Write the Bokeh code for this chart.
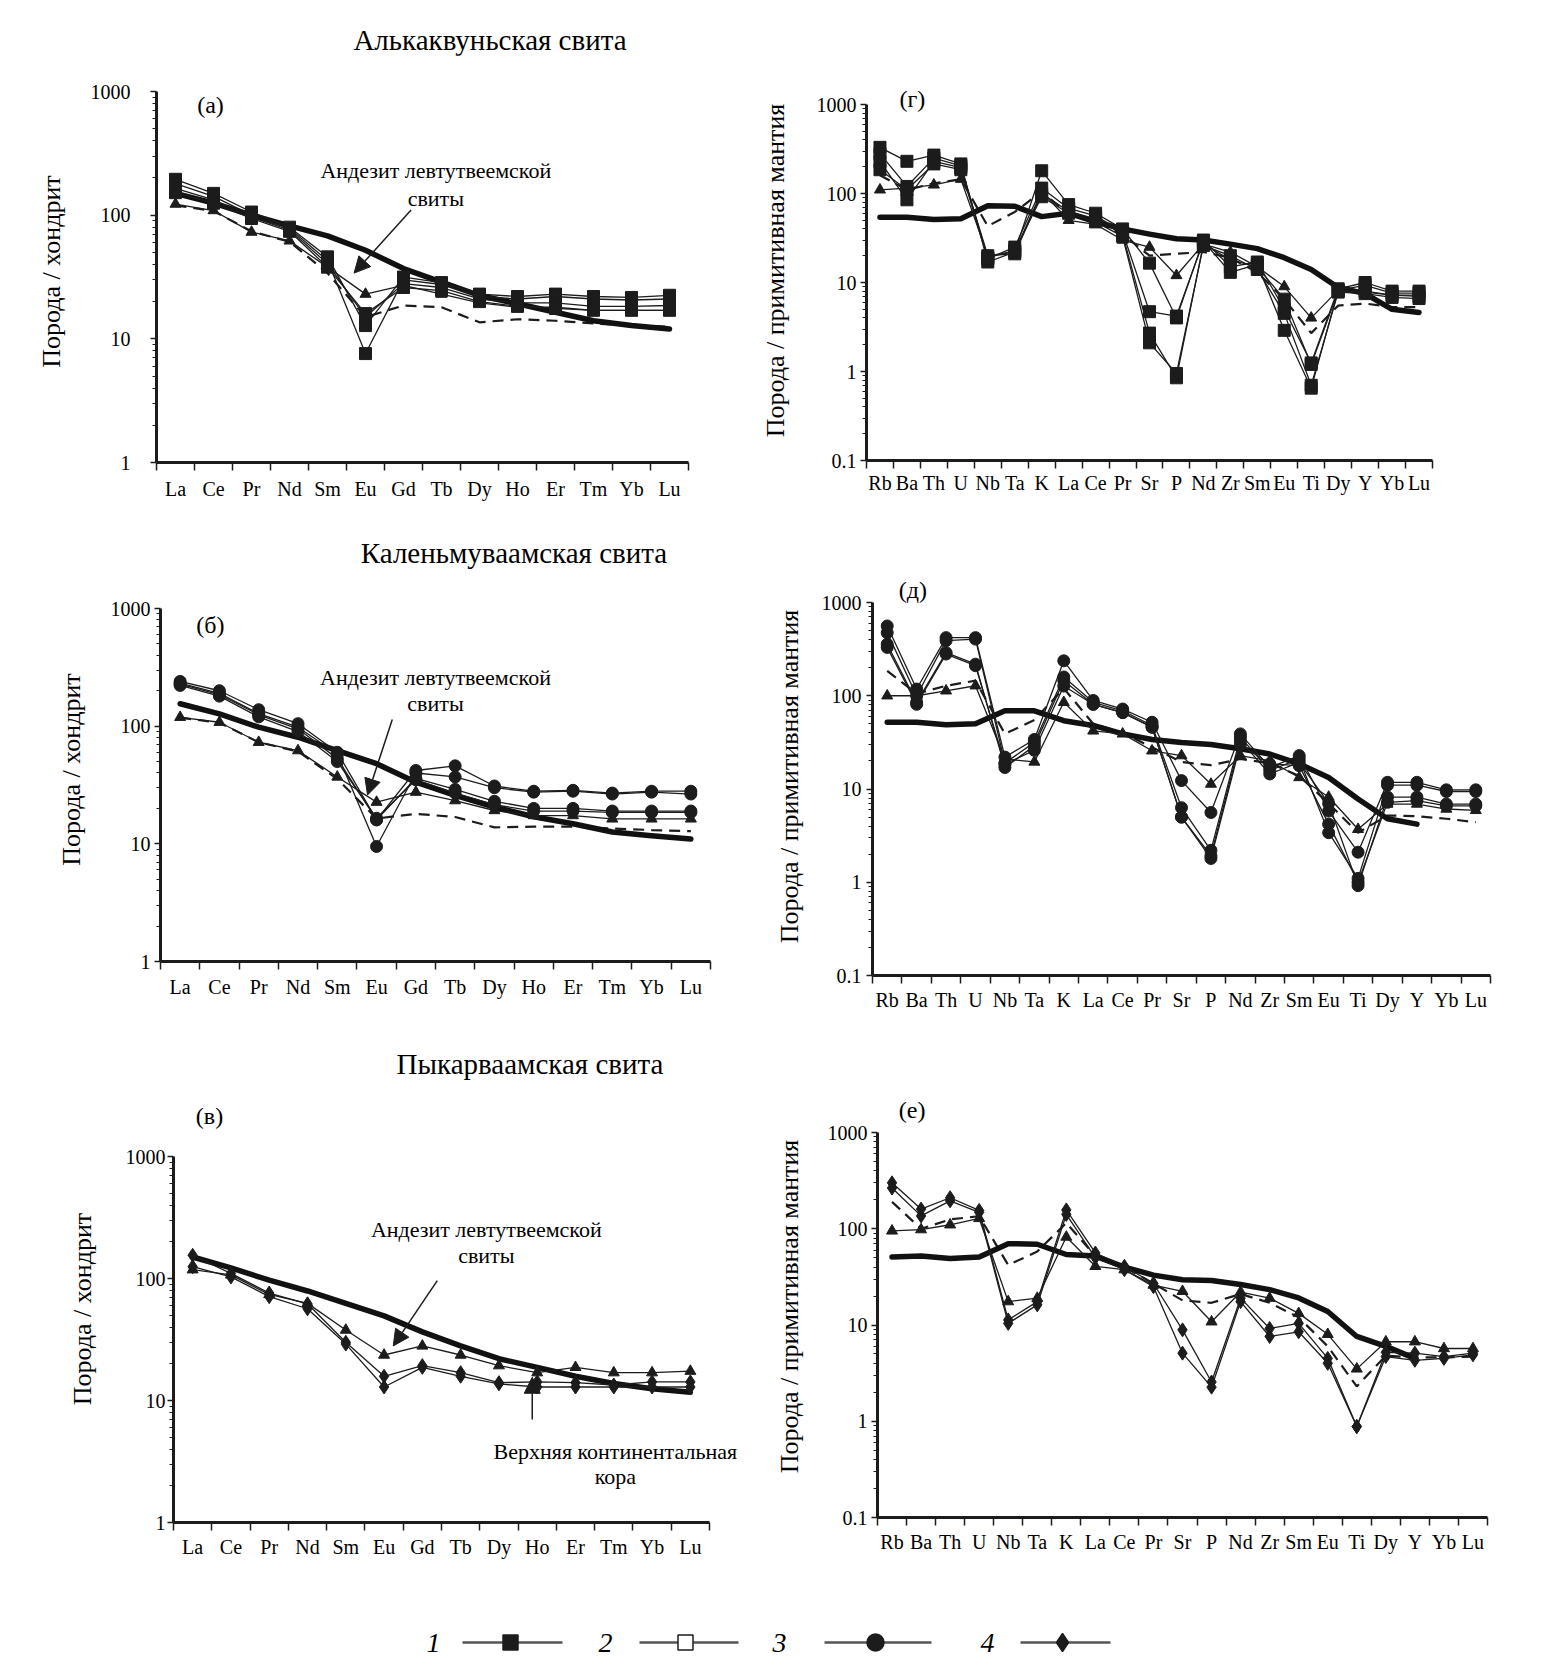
import math
from bokeh.plotting import figure
from bokeh.models import Range1d, FixedTicker, CustomJSTickFormatter, Label, Arrow, NormalHead, Div
from bokeh.layouts import column, row
from bokeh.core.properties import value
from bokeh.embed import file_html
from bokeh.resources import INLINE

FONT = "Liberation Serif"
NAN = float("nan")

# ---------------- categories ----------------
REE = ["La", "Ce", "Pr", "Nd", "Sm", "Eu", "Gd", "Tb", "Dy", "Ho", "Er", "Tm", "Yb", "Lu"]
SPIDER = ["Rb", "Ba", "Th", "U", "Nb", "Ta", "K", "La", "Ce", "Pr", "Sr", "P", "Nd", "Zr",
          "Sm", "Eu", "Ti", "Dy", "Y", "Yb", "Lu"]

# ---------------- panel (а) ----------------
a_crust = [150, 125, 100, 82, 68, 52, 37, 28.7, 22.4, 19.2, 16.4, 14, 12.8, 12]
a_andesite = [123, 109, 73, 62, 38, 23, 27, 23, 19.5, 18, 18, 17, 17, 17]
a_dashed = [120, 108, 74, 61, 34, 15, 18.6, 18, 13.6, 14.4, 14, 13.3, 12.9, 12.5]
a_s1 = [195, 150, 106, 80, 46, 12.8, 31.6, 28.5, 23, 22, 23, 22, 21.6, 22.5]
a_s2 = [180, 142, 100, 78, 43, 7.6, 30, 27.5, 22, 21, 22, 21, 20.6, 21]
a_s3 = [165, 133, 96, 76, 40.5, 15, 28, 26, 21, 19.5, 19.5, 18.3, 18.3, 18.6]
a_s4 = [152, 125, 94, 74, 38, 16, 26, 24.5, 20, 18.3, 17.6, 17, 17, 17]

# ---------------- panel (б) ----------------
b_crust = [155, 127, 98, 80.5, 62, 48, 33.4, 25.8, 20.5, 17, 14.8, 12.6, 11.7, 11]
b_andesite = [119, 108, 73, 62, 37, 22.6, 27.5, 23.3, 19.2, 17.4, 17.4, 16.3, 16.3, 16.3]
b_dashed = [118, 107, 73, 61, 35.6, 16.4, 18, 16.9, 13.8, 14, 14, 13.5, 13.1, 12.8]
b_s1 = [240, 200, 138, 105, 60, 16, 42, 46, 31, 28, 28.5, 27, 28, 28]
b_s2 = [232, 190, 128, 98, 58, 9.5, 40, 37, 30, 27.5, 28, 26.5, 27.5, 26.5]
b_s3 = [228, 185, 125, 95, 53, 16, 36, 29, 23, 20, 20, 19, 19, 19]
b_s4 = [222, 180, 120, 90, 50, 16.5, 35, 27, 21.5, 19, 19, 18.5, 18.5, 18.5]

# ---------------- panel (в) ----------------
v_crust = [150, 122, 97, 79, 62.5, 49.4, 36.5, 28, 22, 18.7, 15.8, 13.8, 12.5, 11.7]
v_andesite = [118, 107, 74, 62.5, 37.8, 23.6, 28, 23.6, 19.3, 16.9, 18.7, 16.9, 16.9, 17.4]
v_s1 = [155, 110, 76, 62, 30, 15.8, 19.3, 16.9, 14, 14.2, 14, 13.4, 14.2, 14.2]
v_s2 = [125, 103, 71, 56.5, 29, 12.9, 18.7, 15.8, 13.7, 12.9, 12.9, 12.9, 12.9, 12.9]

# ---------------- panel (г) ----------------
g_crust = [54, 54, 51, 52, 73, 72, 55, 60, 48, 40, 35, 31, 30, 27, 24, 19, 14, 8.8, 7.5, 5, 4.6]
g_andesite = [110, 115, 125, 145, 20, 22, 105, 50, 45, 30, 25, 12, 27, 22, 15, 9, 4, 8.2, 7.8, 7.2, 7.2]
g_dashed = [160, 110, 130, 145, 43, 62, 105, 58, 48, 35, 20, 21, 22, 19, 13, 6.5, 2.7, 5.5, 5.8, 5.3, 5.3]
g_s1 = [330, 230, 270, 215, 17, 22, 180, 75, 60, 40, 16.5, 4, 30, 15, 17, 5, 1.25, 8.5, 10, 8, 8]
g_s2 = [280, 120, 250, 205, 18.5, 25, 115, 68, 56, 37, 4.7, 4.2, 29, 13, 16, 2.9, 0.65, 8.2, 9.3, 7.6, 7.6]
g_s3 = [230, 85, 230, 195, 20, 21, 100, 63, 52, 35, 2.7, 0.85, 27, 18, 15, 6.5, 1.2, 8, 8, 7.2, 7]
g_s4 = [185, 110, 215, 185, 19, 23, 92, 60, 48, 33, 2.1, 0.95, 26, 20, 14, 4.5, 0.7, 7.8, 7.5, 6.8, 6.6]

# ---------------- panel (д) ----------------
d_crust = [52, 52, 49, 50, 69, 69, 54, 48, 39, 34, 31.6, 30, 27, 23.7, 18.6, 13.3, 7.8, 4.8, 4.2, NAN, NAN]
d_andesite = [100, 100, 113, 128, 21, 19.5, 85, 42, 39, 25.7, 22.8, 11.3, 22.8, 20, 13.3, 8.2, 3.7, 6.9, 6.9, 6.1, 5.9]
d_dashed = [185, 105, 128, 145, 39, 55, 120, 50, 40, 28, 19.5, 18, 21, 19, 13.8, 7, 3.4, 5.2, 5.1, 4.8, 4.4]
d_s1 = [560, 118, 420, 420, 22, 34, 237, 89, 72, 52, 12.3, 5.6, 39, 17, 22.8, 5.8, 2.1, 11.8, 11.8, 9.8, 9.8]
d_s2 = [475, 100, 390, 405, 19, 31.6, 159, 85, 69, 48, 6.3, 2.2, 36, 15.8, 21, 3.4, 1.1, 11, 11, 9.4, 9.4]
d_s3 = [357, 85, 290, 218, 17, 29, 145, 81, 66, 46, 5, 1.93, 33, 14.5, 19.3, 7, 0.92, 8.2, 8.2, 6.9, 6.9]
d_s4 = [330, 81, 280, 210, 18.5, 26, 127, 81, 66, 46, 5, 1.8, 30, 18.6, 17.8, 4.2, 1.0, 7.2, 7.5, 6.6, 6.6]

# ---------------- panel (е) ----------------
e_crust = [51, 52, 49, 51, 70, 69, 54, 52, 40, 33, 29.5, 29, 26.3, 23.3, 19.1, 13.8, 7.6, 6.0, 4.5, NAN, NAN]
e_andesite = [95, 98, 110, 128, 17.5, 19, 82, 40.7, 37.6, 26, 22.4, 10.8, 22, 19, 13.2, 8, 3.5, 6.7, 6.7, 5.7, 5.7]
e_dashed = [190, 100, 125, 135, 42, 58, 115, 52, 40, 27, 18, 17, 21, 17, 12, 6, 2.3, 4.8, 4.6, 4.6, 4.7]
e_s1 = [300, 160, 210, 155, 11.3, 17.5, 157, 56, 40.7, 27, 8.9, 2.56, 19, 9.2, 10.4, 4.5, 0.88, 5.2, 5.1, 4.7, 5.1]
e_s2 = [265, 136, 195, 148, 10.4, 16.2, 141, 50, 37.6, 25, 5.1, 2.26, 17.5, 7.6, 8.5, 4.0, 0.88, 4.7, 4.3, 4.5, 4.9]

LEGEND_NUMBERS = ["1", "2", "3", "4"]

TITLES = ["Алькаквуньская свита", "Каленьмуваамская свита", "Пыкарваамская свита"]
YLABEL_REE = "Порода / хондрит"
YLABEL_SPIDER = "Порода / примитивная мантия"
ANDESITE = ["Андезит левтутвеемской", "свиты"]
CRUST = ["Верхняя континентальная", "кора"]

INK = "#1c1c1c"


def make_panel(cats, ymin, fig_left, fig_width, axis_l, axis_r, frame_r,
               row_top, row_h, frame_t, yt, yb, ylabel, s1, s2, xs):
    """Page-pixel layout -> figure whose bounded axes sit where the reference draws them."""
    n = len(cats)
    spacing = (axis_r - axis_l) / n
    x_end = 0.5 + (frame_r - axis_l) / spacing
    decades = 3 - math.log10(ymin)
    pdx = (yb - yt) / decades
    y_end = 10 ** (3 + (yt - frame_t) / pdx)
    L = axis_l - fig_left
    R = fig_left + fig_width - frame_r
    T = frame_t - row_top
    B = row_top + row_h - yb
    p = figure(width=fig_width, height=row_h, title=None,
               x_range=Range1d(0.5, x_end), y_range=Range1d(ymin, y_end),
               y_axis_type="log", output_backend="svg", toolbar_location=None,
               min_border_left=L, min_border_right=R, min_border_top=T, min_border_bottom=B)
    p.frame_align = False
    p.xgrid.visible = False
    p.ygrid.visible = False
    p.outline_line_color = None
    p.background_fill_color = "white"
    p.border_fill_color = "white"

    xa = p.xaxis[0]
    xa.bounds = (0.5, n + 0.5)
    xa.ticker = FixedTicker(ticks=list(range(1, n + 1)),
                            minor_ticks=[i + 0.5 for i in range(0, n + 1)])
    xa.major_label_overrides = {i + 1: c for i, c in enumerate(cats)}
    xa.major_tick_out = 0
    xa.major_tick_in = 0
    xa.minor_tick_out = 8
    xa.minor_tick_in = 0
    xa.minor_tick_line_width = 1.5
    xa.minor_tick_line_color = INK
    xa.axis_line_width = 3
    xa.axis_line_color = INK
    xa.major_label_standoff = xs
    xa.major_label_text_font = FONT
    xa.major_label_text_font_size = "20px"
    xa.major_label_text_color = "black"

    dec = [d for d in [0.1, 1, 10, 100, 1000] if d >= ymin]
    minors = [m * d for d in dec[:-1] for m in range(2, 10)]
    ya = p.yaxis[0]
    ya.bounds = (ymin, 1000)
    ya.ticker = FixedTicker(ticks=dec, minor_ticks=minors)
    ya.formatter = CustomJSTickFormatter(code="return String(tick);")
    ya.major_tick_out = 6
    ya.major_tick_in = 0
    ya.minor_tick_out = 4
    ya.minor_tick_in = 0
    ya.major_tick_line_width = 1.5
    ya.minor_tick_line_width = 1.2
    ya.major_tick_line_color = INK
    ya.minor_tick_line_color = INK
    ya.axis_line_width = 3
    ya.axis_line_color = INK
    ya.major_label_standoff = s1
    ya.major_label_text_font = FONT
    ya.major_label_text_font_size = "20px"
    ya.major_label_text_color = "black"
    ya.axis_label = ylabel
    ya.axis_label_text_font = FONT
    ya.axis_label_text_font_size = "26px"
    ya.axis_label_text_font_style = "normal"
    ya.axis_label_text_color = "black"
    ya.axis_label_standoff = s2
    return p


def draw(p, series_dashed, series_crust, series_andesite, samples, marker, msize):
    x = list(range(1, len(series_crust) + 1))
    if series_dashed is not None:
        p.line(x, series_dashed, line_color=INK, line_width=2.2, line_dash="11 7")
    p.line(x, series_crust, line_color="#111111", line_width=5.5,
           line_join="round", line_cap="round")
    p.line(x, series_andesite, line_color=INK, line_width=1.3)
    p.scatter(x, series_andesite, marker="triangle", size=11, fill_color=INK, line_color=INK)
    for s in samples:
        p.line(x, s, line_color=INK, line_width=1.3)
        p.scatter(x, s, marker=marker, size=msize, fill_color=INK, line_color=INK)


def add_label(p, x, y, text, size="22px"):
    p.add_layout(Label(x=x, y=y, text=text, text_font=FONT, text_font_size=size,
                       text_align="center", text_baseline="middle", text_color="black"))


def add_arrow(p, x0, y0, x1, y1):
    p.add_layout(Arrow(end=NormalHead(size=16, fill_color=INK, line_color=INK),
                       x_start=x0, y_start=y0, x_end=x1, y_end=y1,
                       line_width=1.5, line_color=INK))


# ---- band 1 ----
R1_TOP, R1_H, R1_FT = 55, 460, 80
pa = make_panel(REE, 1, 0, 720, 156, 688, 700, R1_TOP, R1_H, R1_FT, 91, 462,
                YLABEL_REE, 20, 22, 7)
draw(pa, a_dashed, a_crust, a_andesite, [a_s1, a_s2, a_s3, a_s4], "square", 12)
add_label(pa, 1.92, 785, "(а)", "24px")
add_label(pa, 7.85, 228, ANDESITE[0])
add_label(pa, 7.85, 137, ANDESITE[1])
add_arrow(pa, 7.2, 110, 5.7, 34)

pg = make_panel(SPIDER, 0.1, 720, 744, 866, 1432, 1444, R1_TOP, R1_H, R1_FT, 104, 460,
                YLABEL_SPIDER, 4, 24, 3)
draw(pg, g_dashed, g_crust, g_andesite, [g_s1, g_s2, g_s3, g_s4], "square", 12)
add_label(pg, 2.2, 1150, "(г)", "24px")

# ---- band 2 ----
R2_TOP, R2_H, R2_FT = 575, 455, 577
pb = make_panel(REE, 1, 0, 730, 160, 710, 720, R2_TOP, R2_H, R2_FT, 608, 961,
                YLABEL_REE, 4, 22, 6)
draw(pb, b_dashed, b_crust, b_andesite, [b_s1, b_s2, b_s3, b_s4], "circle", 12)
add_label(pb, 1.77, 731, "(б)", "24px")
add_label(pb, 7.5, 260, ANDESITE[0])
add_label(pb, 7.5, 155, ANDESITE[1])
add_arrow(pb, 6.4, 114, 5.77, 26)

pd = make_panel(SPIDER, 0.1, 730, 800, 872, 1490, 1510, R2_TOP, R2_H, R2_FT, 602, 975,
                YLABEL_SPIDER, 5, 15, 5)
draw(pd, d_dashed, d_crust, d_andesite, [d_s1, d_s2, d_s3, d_s4], "circle", 12)
add_label(pd, 1.87, 1345, "(д)", "24px")

# ---- band 3 ----
R3_TOP, R3_H, R3_FT = 1090, 485, 1095
pv = make_panel(REE, 1, 0, 755, 173, 709, 750, R3_TOP, R3_H, R3_FT, 1156, 1522,
                YLABEL_REE, 2, 26, 5)
draw(pv, None, v_crust, v_andesite, [v_s1, v_s2], "diamond", 14)
add_label(pv, 1.44, 2168, "(в)", "24px")
add_label(pv, 8.67, 251, ANDESITE[0])
add_label(pv, 8.67, 155, ANDESITE[1])
add_arrow(pv, 7.39, 96, 6.24, 28)
add_label(pv, 12.04, 3.82, CRUST[0])
add_label(pv, 12.04, 2.38, CRUST[1])
add_arrow(pv, 9.87, 7, 9.87, 15.5)

pe = make_panel(SPIDER, 0.1, 755, 775, 877, 1487, 1510, R3_TOP, R3_H, R3_FT, 1132, 1517,
                YLABEL_SPIDER, 4, 21, 5)
draw(pe, e_dashed, e_crust, e_andesite, [e_s1, e_s2], "diamond", 14)
add_label(pe, 1.69, 1700, "(е)", "24px")

# ---- legend ----
LEG_W, LEG_H = 1530, 90
leg = figure(width=LEG_W, height=LEG_H, x_range=Range1d(0, LEG_W), y_range=Range1d(0, LEG_H),
             output_backend="svg", toolbar_location=None, min_border=0, title=None)
leg.axis.visible = False
leg.grid.visible = False
leg.outline_line_color = None
ly = 23
num_x = [433, 605, 779, 987]
seg = [(462, 562), (639, 738), (824, 931), (1020, 1110)]
mk_x = [510, 685, 875, 1062]
markers = ["square", "square", "circle", "diamond"]
fills = [INK, "white", INK, INK]
sizes = [15, 15, 17, 18]
leg.text(x=num_x, y=[ly] * 4, text=LEGEND_NUMBERS, text_font=value(FONT),
         text_font_style="italic", text_font_size="28px", text_align="center",
         text_baseline="middle", text_color="black")
leg.segment(x0=[s[0] for s in seg], y0=[ly] * 4, x1=[s[1] for s in seg], y1=[ly] * 4,
            line_color="#555555", line_width=2.5)
for i in range(4):
    leg.scatter([mk_x[i]], [ly], marker=markers[i], size=sizes[i],
                fill_color=fills[i], line_color=INK, line_width=1.5)


def title_div(text, width, height, pad):
    html = ('<div style="font-family:\'Liberation Serif\'; font-size:29px; line-height:29px; '
            'text-align:center; color:black; padding-top:%dpx; width:%dpx;">%s</div>'
            % (pad, width, text))
    return Div(text=html, width=width, height=height, margin=0)


layout = column(
    title_div(TITLES[0], 980, 55, 26),
    row(pa, pg),
    title_div(TITLES[1], 1028, 60, 24),
    row(pb, pd),
    title_div(TITLES[2], 1060, 60, 20),
    row(pv, pe),
    leg,
)

open("out.html", "w").write(file_html(layout, INLINE))
